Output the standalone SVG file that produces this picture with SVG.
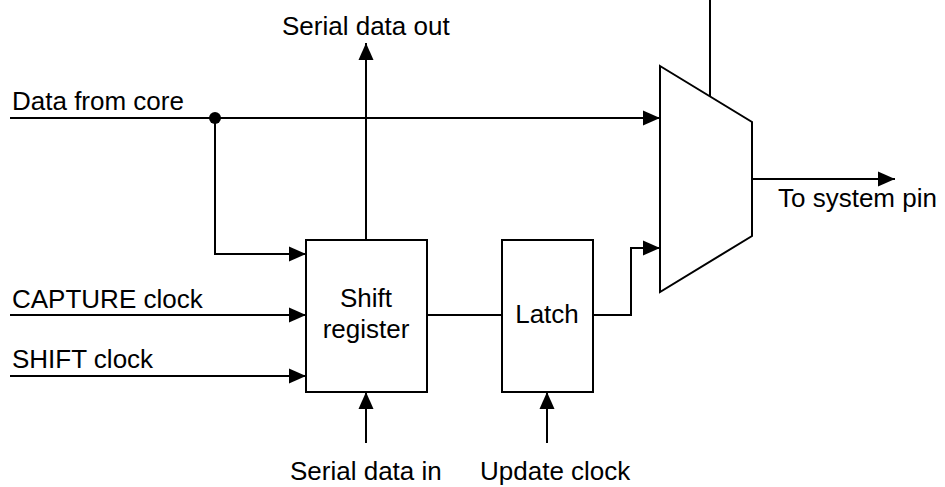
<svg xmlns="http://www.w3.org/2000/svg" width="945" height="487" viewBox="0 0 945 487">
<style>
.ln{fill:none;stroke:#000;stroke-width:2}
.bx{fill:#fff;stroke:#000;stroke-width:2}
.t{font-family:"Liberation Sans",Arial,sans-serif;font-size:26px;fill:#000}
.c{text-anchor:middle}
</style>
<defs>
<marker id="ah" markerUnits="userSpaceOnUse" markerWidth="17" markerHeight="16" refX="17" refY="8" orient="auto">
<path d="M0,0.5 L17,8 L0,15.5 z" fill="#000"/>
</marker>
</defs>
<rect width="945" height="487" fill="#fff"/>
<g id="connectors">
<path class="ln" d="M10,118 H660" marker-end="url(#ah)"/>
<circle cx="215" cy="118" r="6" fill="#000"/>
<path class="ln" d="M215,118 V254 H306" marker-end="url(#ah)"/>
<path class="ln" d="M10,315 H306" marker-end="url(#ah)"/>
<path class="ln" d="M10,376 H306" marker-end="url(#ah)"/>
<path class="ln" d="M366,240 V43" marker-end="url(#ah)"/>
<path class="ln" d="M366,443 V392" marker-end="url(#ah)"/>
<path class="ln" d="M547,443 V392" marker-end="url(#ah)"/>
<path class="ln" d="M427,315 H502"/>
<path class="ln" d="M593,315 H631 V248 H660" marker-end="url(#ah)"/>
<path class="ln" d="M752,179 H895" marker-end="url(#ah)"/>
<path class="ln" d="M710,0 V96"/>
</g>
<g id="shift-register">
<rect class="bx" x="306" y="240" width="121" height="152"/>
<text class="t c" x="366" y="307">Shift</text>
<text class="t c" x="366" y="338">register</text>
</g>
<g id="latch">
<rect class="bx" x="502" y="240" width="91" height="152"/>
<text class="t c" x="547" y="323">Latch</text>
</g>
<g id="mux">
<polygon class="ln" points="660,66 752,122 752,236 660,292"/>
</g>
<g id="labels">
<text class="t" x="282" y="35">Serial data out</text>
<text class="t" x="12" y="110">Data from core</text>
<text class="t" x="12" y="308">CAPTURE clock</text>
<text class="t" x="12" y="368">SHIFT clock</text>
<text class="t" x="290" y="480">Serial data in</text>
<text class="t" x="480" y="480">Update clock</text>
<text class="t" x="778" y="207">To system pin</text>
</g>
</svg>
